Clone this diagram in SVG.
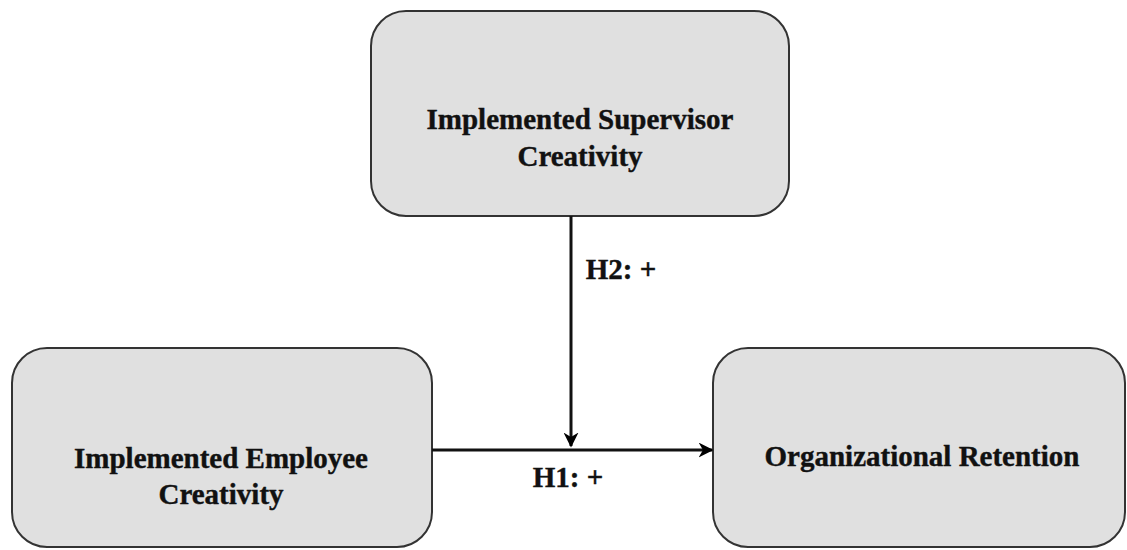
<svg xmlns="http://www.w3.org/2000/svg" width="1127" height="550" viewBox="0 0 1127 550">
<defs>
<marker id="arr" viewBox="0 0 10 10" refX="9" refY="5" markerWidth="5" markerHeight="5" orient="auto" markerUnits="strokeWidth">
<path d="M0,0 L10,5 L0,10 L3,5 Z" fill="#000"/>
</marker>
<style>
.box{fill:#e0e0e0;stroke:#333;stroke-width:2}
.t{font-family:"Liberation Serif","Times New Roman",serif;font-weight:bold;font-size:29px;fill:#111;stroke:#111;stroke-width:0.4;text-anchor:middle}
.c{stroke:#111;stroke-width:3;fill:none}
</style>
</defs>
<rect width="1127" height="550" fill="#fff"/>
<g id="supervisor">
<rect class="box" x="371" y="11" width="418" height="205" rx="35"/>
<text class="t" x="580" y="129">Implemented Supervisor</text>
<text class="t" x="580" y="166">Creativity</text>
</g>
<g id="employee">
<rect class="box" x="12" y="348" width="420" height="199" rx="35"/>
<text class="t" x="221" y="468">Implemented Employee</text>
<text class="t" x="221" y="504">Creativity</text>
</g>
<g id="retention">
<rect class="box" x="713" y="348" width="412" height="199" rx="35"/>
<text class="t" x="922" y="466">Organizational Retention</text>
</g>
<g id="connectors">
<line class="c" x1="571" y1="216" x2="571" y2="446" marker-end="url(#arr)"/>
<line class="c" x1="432" y1="450" x2="712" y2="450" marker-end="url(#arr)"/>
<text class="t" x="621" y="279">H2: +</text>
<text class="t" x="568" y="487">H1: +</text>
</g>
</svg>
